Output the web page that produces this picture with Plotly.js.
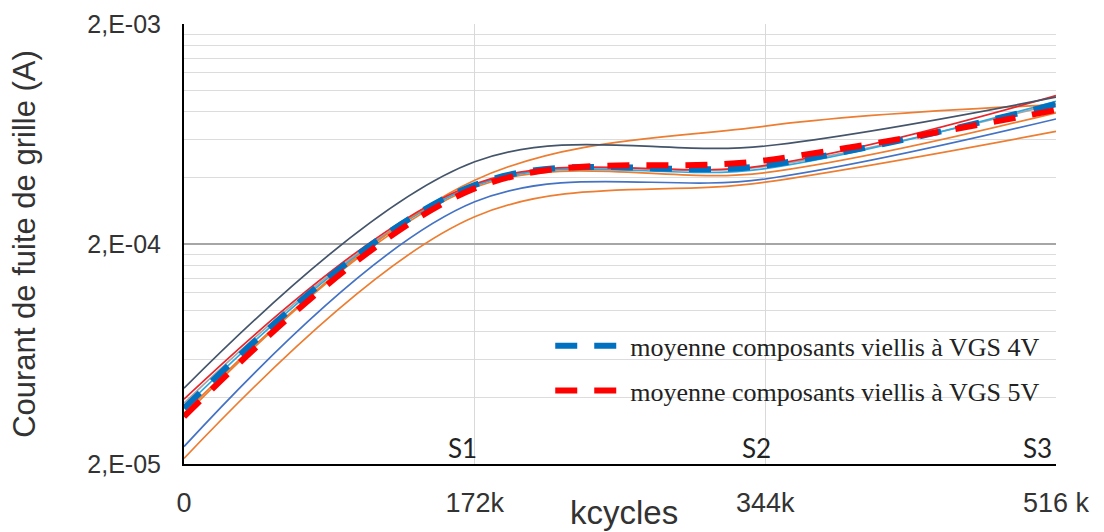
<!DOCTYPE html>
<html>
<head>
<meta charset="utf-8">
<script src="https://cdn.plot.ly/plotly-3.0.1.min.js"></script>
<style>html,body{margin:0;padding:0;background:#fff;}#chart{width:1104px;height:532px;}</style>
</head>
<body>
<div id="chart"></div>
<script>
// kcycles
const cycles = [0, 172000, 344000, 516000];
const cycleLabels = ['0', '172k', '344k', '516 k'];
const stageLabels = ['S1', 'S2', 'S3'];
const stageCycles = [172000, 344000, 516000];

// individual aged components (A)
const compNavy      = [4.42e-5, 4.73e-4, 5.58e-4, 9.30e-4];
const compRed       = [3.94e-5, 3.75e-4, 4.55e-4, 9.45e-4];
const compGray      = [3.78e-5, 3.70e-4, 4.50e-4, 8.70e-4];
const compLightBlue = [3.60e-5, 3.68e-4, 4.40e-4, 8.90e-4];
const compOrangeTop = [3.40e-5, 3.90e-4, 6.87e-4, 8.60e-4];
const compOrangeMid = [3.30e-5, 3.62e-4, 4.22e-4, 7.90e-4];
const compBlueLow   = [2.40e-5, 3.11e-4, 3.95e-4, 7.40e-4];
const compOrangeLow = [2.12e-5, 2.66e-4, 3.82e-4, 6.50e-4];

// averages
const mean4V = [3.58e-5, 3.71e-4, 4.55e-4, 8.65e-4];
const mean5V = [3.28e-5, 3.58e-4, 4.80e-4, 8.13e-4];
const legendNames = ['moyenne composants viellis à VGS 4V', 'moyenne composants viellis à VGS 5V'];

const yTickVals = [2e-5, 2e-4, 2e-3];
const yTickText = ['2,E-05', '2,E-04', '2,E-03'];

function thin(y, color) {
  return {x: cycles, y: y, type: 'scatter', mode: 'lines', showlegend: false, hoverinfo: 'skip',
          line: {color: color, width: 1.7, shape: 'spline', smoothing: 1}};
}
const traces = [
  thin(compOrangeLow, '#ED7D31'),
  thin(compBlueLow, '#4472C4'),
  thin(compOrangeMid, '#ED7D31'),
  thin(compGray, '#A5A5A5'),
  thin(compLightBlue, '#2FA8E0'),
  thin(compOrangeTop, '#ED7D31'),
  thin(compRed, '#E8262B'),
  thin(compNavy, '#44546A'),
  {x: cycles, y: mean4V, type: 'scatter', mode: 'lines', name: legendNames[0], legendgroup: 'a',
   line: {color: '#0070C0', width: 6, dash: '22px,17px', shape: 'spline', smoothing: 1}},
  {x: cycles, y: mean5V, type: 'scatter', mode: 'lines', name: legendNames[1], legendgroup: 'b',
   line: {color: '#FF0000', width: 6, dash: '22px,17px', shape: 'spline', smoothing: 1}}
];

const minorVals = [];
[2e-5, 2e-4].forEach(d => { for (let k = 2; k <= 9; k++) minorVals.push(d * k); });

const annotations = stageLabels.map((s, i) => ({
  x: stageCycles[i], xref: 'x', y: 0, yref: 'paper', yanchor: 'bottom', xanchor: 'right',
  xshift: [4, 8, -2][i], yshift: -2, text: s, showarrow: false,
  font: {family: 'Lato, sans-serif', size: 26, color: '#222'}
}));
annotations.push({x: 0.505, xref: 'paper', y: (532 - 68 - 512) / 440, yref: 'paper', text: 'kcycles', showarrow: false,
  yanchor: 'middle', xanchor: 'center', font: {family: 'Liberation Sans, Arial, sans-serif', size: 33, color: '#333'}});

const layout = {
  width: 1104, height: 532,
  margin: {l: 184, r: 48, t: 24, b: 68},
  paper_bgcolor: '#fff', plot_bgcolor: '#fff',
  font: {family: 'Liberation Sans, Arial, sans-serif', color: '#333'},
  showlegend: true,
  legend: {x: 0.42, y: 0.322, xanchor: 'left', yanchor: 'top', bgcolor: 'rgba(255,255,255,0)',
           font: {family: 'Liberation Serif, serif', size: 26, color: '#222'},
           tracegroupgap: 8, itemwidth: 70, traceorder: 'grouped'},
  xaxis: {type: 'linear', range: [0, 516000], tickmode: 'array', tickvals: cycles, ticktext: cycleLabels,
          showgrid: true, gridcolor: '#D9D9D9', gridwidth: 1.5, zeroline: false,
          showline: true, linecolor: '#000', linewidth: 2, ticks: '',
          ticklabelstandoff: 14, tickfont: {size: 27, color: '#333'}, fixedrange: true},
  yaxis: {type: 'log', range: [Math.log10(2e-5), Math.log10(2e-3)], tickmode: 'array',
          tickvals: yTickVals, ticktext: yTickText,
          showgrid: true, gridcolor: '#A6A6A6', gridwidth: 1.2, zeroline: false,
          showline: true, linecolor: '#000', linewidth: 2, ticks: '',
          minor: {tickmode: 'array', tickvals: minorVals, showgrid: true, gridcolor: '#DCDCDC', gridwidth: 1, ticks: ''},
          ticklabelstandoff: 16, tickfont: {size: 25, color: '#333'},
          title: {text: 'Courant de fuite de grille (A)', standoff: 42,
                  font: {family: 'Liberation Sans, Arial, sans-serif', size: 31, color: '#333'}},
          automargin: false, fixedrange: true},
  annotations: annotations
};

Plotly.newPlot('chart', traces, layout, {displayModeBar: false, staticPlot: true});
</script>
</body>
</html>
